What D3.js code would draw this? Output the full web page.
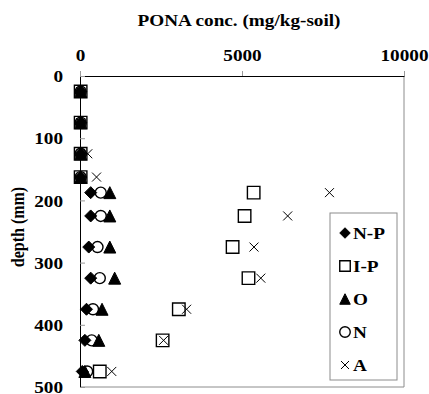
<!DOCTYPE html>
<html>
<head>
<meta charset="utf-8">
<script src="https://cdn.jsdelivr.net/npm/d3@7"></script>
<style>
  body { margin: 0; background: #fff; }
  text { font-family: "Liberation Serif", "Times New Roman", serif; font-weight: bold; }
</style>
</head>
<body>
<div id="chart"></div>
<script>
// depth of each sampling layer (mm)
const depths = [25, 75, 125, 162.5, 187.5, 225, 275, 325, 375, 425, 475];
// PONA concentration per series (mg/kg-soil)
const seriesNP = [20, 20, 20, 20, 330, 330, 270, 330, 200, 150, 70];
const seriesIP = [20, 20, 20, 20, 5360, 5080, 4710, 5200, 3050, 2550, 610];
const seriesO = [20, 20, 20, 20, 920, 920, 920, 1070, 680, 580, 150];
const seriesN = [20, 20, 20, 20, 640, 640, 540, 610, 400, 360, 220];
const seriesA = [20, 20, 240, 510, 7700, 6410, 5370, 5580, 3290, 2580, 980];
const seriesNames = ['N-P', 'I-P', 'O', 'N', 'A'];
const xTicks = [0, 5000, 10000];
const yTicks = [0, 100, 200, 300, 400, 500];

const width = 429, height = 394;
const margin = { top: 76, right: 25, bottom: 7, left: 80 };
const stretchX = 1.2;

const x = d3.scaleLinear().domain([0, 10000]).range([margin.left, width - margin.right]);
const y = d3.scaleLinear().domain([0, 500]).range([margin.top, height - margin.bottom]);

const svg = d3.create('svg').attr('width', width).attr('height', height);

// widen text glyphs a bit, the original is stretched horizontally
function stretch(sel) {
  sel.each(function () {
    const t = d3.select(this);
    const tx = +t.attr('x') || 0, ty = +t.attr('y') || 0;
    t.attr('x', 0).attr('y', 0)
      .attr('transform', `translate(${tx},${ty}) scale(${stretchX},1)`);
  });
}

// plot area border (right and bottom, grey)
svg.append('path')
  .attr('d', `M${x(10000)},${y(0)}V${y(500)}H${x(0)}`)
  .attr('fill', 'none').attr('stroke', '#8c8c8c').attr('stroke-width', 1);

// top x axis
const xAxis = svg.append('g')
  .attr('transform', `translate(0,${y(0)})`)
  .call(d3.axisTop(x).tickValues(xTicks).tickFormat(d3.format('d'))
    .tickSize(5).tickPadding(4).tickSizeOuter(0));
xAxis.select('.domain').attr('stroke', '#000');
xAxis.selectAll('.tick line').attr('stroke', '#999');
xAxis.selectAll('.tick text').attr('font-size', 16).attr('fill', '#000')
  .attr('dy', 0).attr('y', -15).call(stretch);

// left y axis, ticks inside
const yAxis = svg.append('g')
  .attr('transform', `translate(${x(0)},0)`)
  .call(d3.axisLeft(y).tickValues(yTicks).tickFormat(d3.format('d'))
    .tickSizeInner(-5).tickSizeOuter(0).tickPadding(17));
yAxis.select('.domain').attr('stroke', '#000');
yAxis.selectAll('.tick line').attr('stroke', '#999');
yAxis.selectAll('.tick text').attr('font-size', 16).attr('fill', '#000')
  .attr('dy', '0.35em').call(stretch);

// titles
svg.append('text')
  .attr('text-anchor', 'middle').attr('font-size', 16)
  .attr('transform', `translate(239,26) scale(${stretchX},1)`)
  .text('PONA conc. (mg/kg-soil)');

svg.append('text')
  .attr('text-anchor', 'middle').attr('font-size', 16)
  .attr('transform', `translate(24,227) rotate(-90) scale(1,${stretchX})`)
  .text('depth (mm)');

// marker shapes
const marker = {
  'N-P': s => `M0,${-s / 2}L${s / 2},0L0,${s / 2}L${-s / 2},0Z`,
  'I-P': s => `M${-s / 2},${-s / 2}H${s / 2}V${s / 2}H${-s / 2}Z`,
  'O': s => `M0,${-s / 2}L${s / 2},${s / 2}H${-s / 2}Z`,
  'N': s => d3.arc()({ innerRadius: 0, outerRadius: s / 2, startAngle: 0, endAngle: 2 * Math.PI }),
  'A': s => `M${-s / 2},${-s / 2}L${s / 2},${s / 2}M${s / 2},${-s / 2}L${-s / 2},${s / 2}`
};
const markerStyle = {
  'N-P': { fill: '#000', stroke: '#000', sw: 1, size: 12 },
  'I-P': { fill: 'none', stroke: '#000', sw: 1.4, size: 12.5 },
  'O': { fill: '#000', stroke: '#000', sw: 1, size: 12 },
  'N': { fill: 'none', stroke: '#000', sw: 1.4, size: 11 },
  'A': { fill: 'none', stroke: '#000', sw: 1, size: 9 }
};

const allSeries = [seriesNP, seriesIP, seriesO, seriesN, seriesA];
seriesNames.forEach((name, i) => {
  const st = markerStyle[name];
  svg.append('g')
    .selectAll('path')
    .data(depths.map((d, j) => ({ depth: d, value: allSeries[i][j] })))
    .join('path')
    .attr('transform', d => `translate(${x(d.value)},${y(d.depth)})`)
    .attr('d', marker[name](st.size))
    .attr('fill', st.fill)
    .attr('stroke', st.stroke)
    .attr('stroke-width', st.sw);
});

// legend
const legend = svg.append('g');
legend.append('rect')
  .attr('x', 330).attr('y', 213).attr('width', 67).attr('height', 167)
  .attr('fill', '#fff').attr('stroke', '#8c8c8c').attr('stroke-width', 1);

const entries = legend.selectAll('g.entry')
  .data(seriesNames)
  .join('g')
  .attr('class', 'entry')
  .attr('transform', (d, i) => `translate(345,${233 + i * 33})`);

entries.append('path')
  .attr('d', d => marker[d](d === 'A' ? 8 : 10.5))
  .attr('fill', d => markerStyle[d].fill)
  .attr('stroke', '#000')
  .attr('stroke-width', d => markerStyle[d].sw);

entries.append('text')
  .attr('font-size', 16)
  .attr('transform', `translate(8,5.5) scale(${stretchX},1)`)
  .text(d => d);

document.getElementById('chart').appendChild(svg.node());
</script>
</body>
</html>
